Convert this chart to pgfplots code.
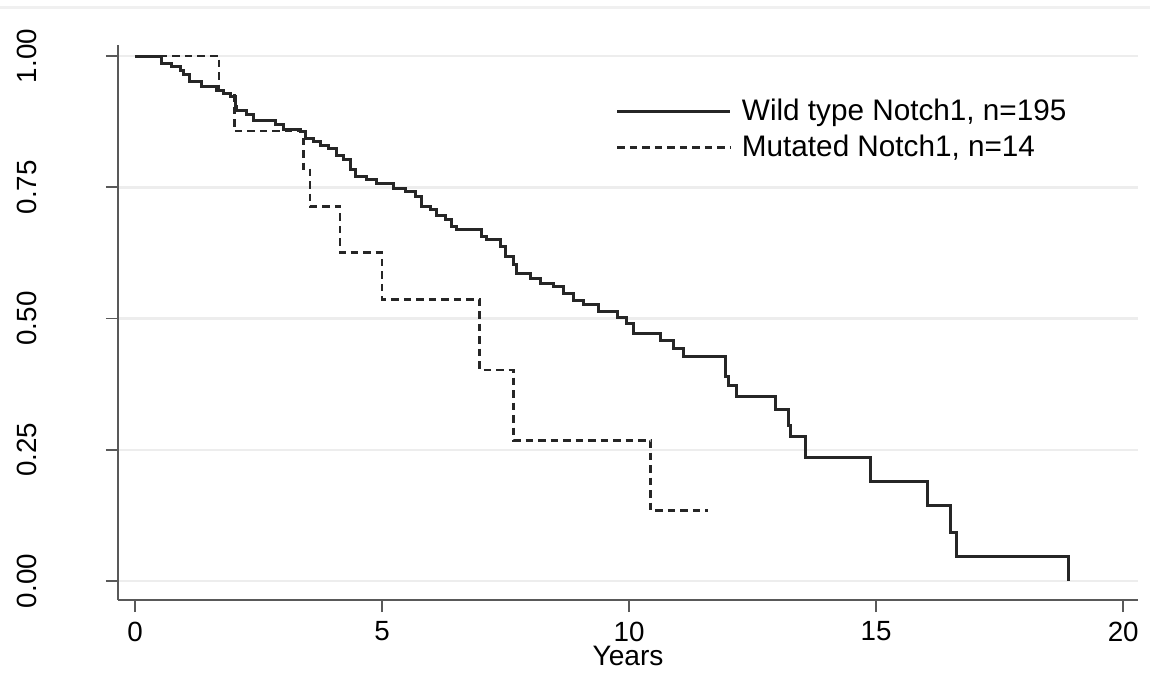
\documentclass[border=0pt]{standalone}
\usepackage{fontspec}
\setmainfont{Liberation Sans}
\usepackage{pgfplots}
\pgfplotsset{compat=1.18}

\begin{document}
\begin{tikzpicture}
\useasboundingbox (0,0) rectangle (115mm,67.8mm);
\draw[black!6, line width=0.3mm] (0,67.0mm) -- (115mm,67.0mm);
\begin{axis}[
  at={(11.8mm,7.8mm)}, anchor=south west,
  scale only axis, width=102mm, height=55.5mm,
  xmin=-0.344, xmax=20.30, ymin=-0.0362, ymax=1.021,
  axis lines=left, axis line style={-, black!65, line width=0.5pt},
  tick align=outside, major tick length=1.2mm,
  tick style={black!65, line width=0.5pt},
  xtick={0,5,10,15,20}, ytick={0,0.25,0.5,0.75,1},
  ymajorgrids, grid style={black!7, line width=0.7pt},
  /pgf/number format/assume math mode=true,
  tick label style={font=\fontsize{7.9}{9.5}\selectfont, inner sep=0pt},
  yticklabel style={rotate=90, anchor=south,
    /pgf/number format/.cd, fixed, fixed zerofill, precision=2},
  yticklabel shift=6.9mm,
  xticklabel shift=0.9mm,
  xlabel={Years},
  xlabel style={font=\fontsize{8}{9.6}\selectfont, inner sep=0pt,
    at={(axis description cs:0.5,0)}, anchor=north, yshift=-4.5mm},
  legend cell align=left,
  legend image code/.code={\draw[#1] (0mm,0mm) -- (11.3mm,0mm);},
  legend style={draw=none, fill=none, inner sep=0pt,
    at={(axis cs:9.72,0.929)}, anchor=north west,
    font=\fontsize{8.45}{10}\selectfont, row sep=0.1mm, column sep=1.0mm,
    nodes={inner sep=0pt, text height=0.75em, text depth=0.25em}},
]
\addplot[const plot, black!85, line width=0.3mm] coordinates {
  (0,1) (0.54,0.986) (0.743,0.980) (0.911,0.973) (0.978,0.964) (1.113,0.951)
  (1.350,0.942) (1.654,0.935) (1.787,0.929) (1.923,0.922) (2.024,0.903)
  (2.059,0.897) (2.261,0.888) (2.395,0.877) (2.834,0.869) (3.002,0.860)
  (3.340,0.856) (3.441,0.843) (3.609,0.837) (3.745,0.830) (3.913,0.824)
  (4.083,0.811) (4.217,0.802) (4.352,0.783) (4.453,0.770) (4.690,0.764)
  (4.893,0.758) (5.229,0.748) (5.466,0.742) (5.668,0.732) (5.804,0.713)
  (5.972,0.707) (6.107,0.697) (6.275,0.688) (6.411,0.675) (6.512,0.669)
  (7.018,0.657) (7.119,0.650) (7.389,0.637) (7.490,0.618) (7.658,0.602)
  (7.727,0.586) (7.996,0.577) (8.198,0.567) (8.468,0.561) (8.670,0.548)
  (8.873,0.535) (9.075,0.526) (9.379,0.513) (9.767,0.502) (9.953,0.491)
  (10.087,0.472) (10.628,0.459) (10.897,0.443) (11.099,0.427) (11.943,0.389)
  (12.010,0.373) (12.180,0.351) (12.955,0.326) (13.225,0.297) (13.259,0.275)
  (13.563,0.236) (14.879,0.190) (16.038,0.143) (16.498,0.092) (16.619,0.046)
  (18.887,0)
};
\addlegendentry{Wild type Notch1, n=195}
\addplot[const plot, black!85, line width=0.28mm, dash pattern=on 0.75mm off 0.5mm] coordinates {
  (0,1) (1.70,0.929) (2.01,0.857) (3.41,0.786) (3.54,0.714) (4.15,0.625)
  (5.00,0.536) (6.98,0.402) (7.66,0.268) (10.44,0.134) (11.6,0.134)
};
\addlegendentry{Mutated Notch1, n=14}
\end{axis}
\end{tikzpicture}
\end{document}
